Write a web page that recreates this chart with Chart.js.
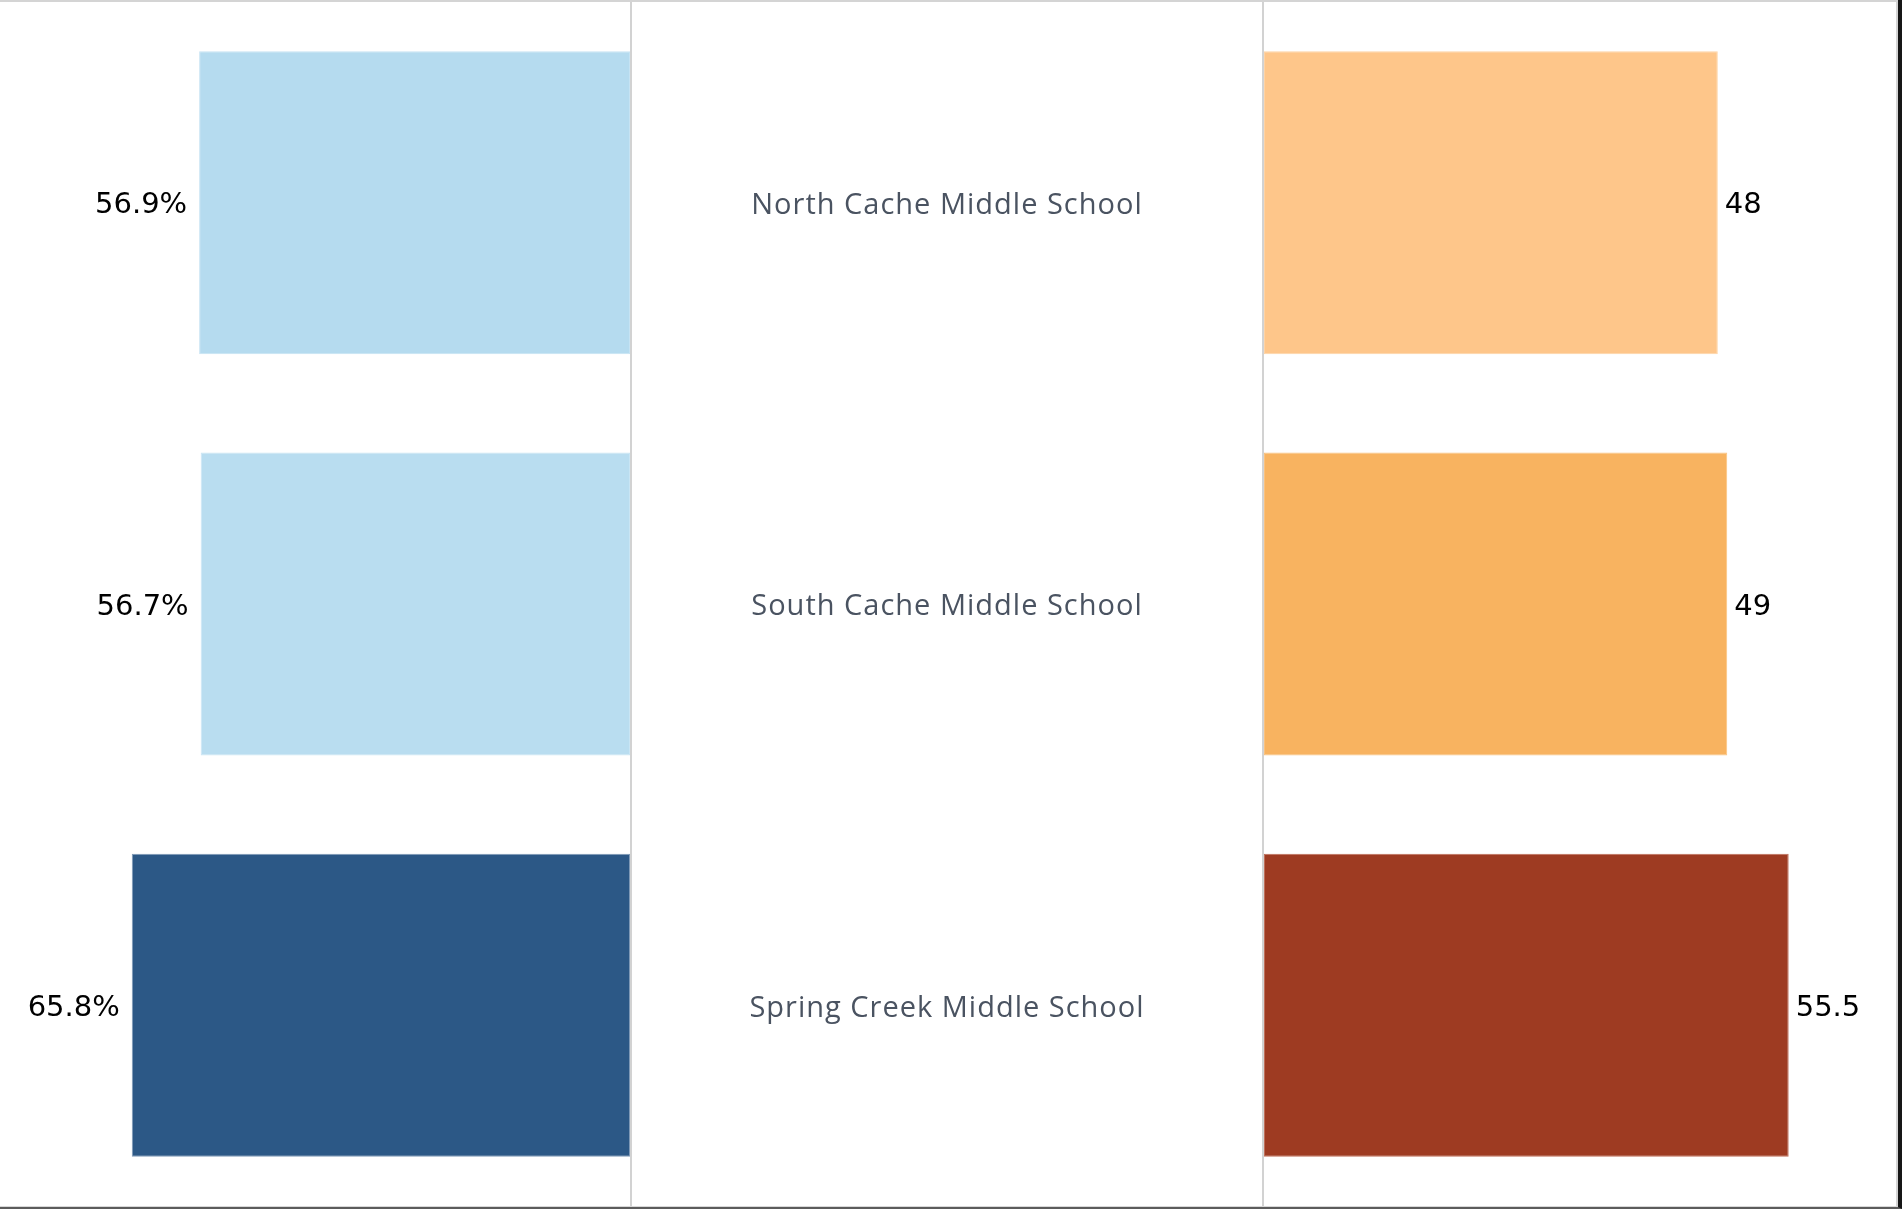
<!DOCTYPE html>
<html>
<head>
<meta charset="utf-8">
<title>Middle schools</title>
<script src="https://cdn.jsdelivr.net/npm/chart.js@4.4.1/dist/chart.umd.min.js"></script>
<style>
    html, body { margin: 0; padding: 0; background: #fff; overflow: hidden; }
    #outer {
        position: absolute; left: 0; top: 0;
        width: 1902px; height: 1209px; box-sizing: border-box;
        border-right: 4px solid #161616;
        border-bottom: 2px solid #5c5c5c;
    }
    #inner {
        width: 100%; height: 100%; box-sizing: border-box;
        border-top: 2px solid #d4d4d4;
        border-right: 2px solid #d4d4d4;
        border-bottom: 1px solid #d8d8d8;
        display: flex;
    }
    .panel { height: 1204px; position: relative; }
    #pLeft  { width: 630px; }
    #pMid   { width: 630px; border-left: 2px solid #d2d2d2; }
    #pRight { width: 632px; border-left: 2px solid #d2d2d2; }
    canvas { display: block; }
</style>
</head>
<body>
<div id="outer"><div id="inner">
    <div class="panel" id="pLeft"><canvas id="leftChart" width="630" height="1204"></canvas></div>
    <div class="panel" id="pMid"><canvas id="midChart" width="630" height="1204"></canvas></div>
    <div class="panel" id="pRight"><canvas id="rightChart" width="632" height="1204"></canvas></div>
</div></div>

<script>
// --- data ---
const schools     = ['North Cache Middle School', 'South Cache Middle School', 'Spring Creek Middle School'];
const pctValues   = [56.9, 56.7, 65.8];
const scoreValues = [48, 49, 55.5];

const pctColors   = ['#b5dbef', '#b9ddf0', '#2c5886'];
const pctBorders  = ['#c6e3f3', '#c9e5f4', '#7f99b6'];
const scoreColors = ['#fec68a', '#f8b360', '#9e3b22'];
const scoreBorders= ['#fed3a5', '#fac27f', '#bf6f5a'];

const valueFont = '29px "DejaVu Sans", sans-serif';
const nameFont  = '29px "Open Sans", sans-serif';

// draws the value next to the end of each bar
const endLabels = {
    id: 'endLabels',
    afterDatasetsDraw(chart, args, opts) {
        const ctx  = chart.ctx;
        const meta = chart.getDatasetMeta(0);
        const ds   = chart.data.datasets[0];
        ctx.save();
        ctx.font = valueFont;
        ctx.fillStyle = '#000';
        ctx.textBaseline = 'middle';
        meta.data.forEach((bar, i) => {
            const txt = opts.format(ds.data[i]);
            if (opts.side === 'left') {
                ctx.textAlign = 'right';
                ctx.fillText(txt, bar.x - opts.offset, bar.y + 3);
            } else {
                ctx.textAlign = 'left';
                ctx.fillText(txt, bar.x + opts.offset, bar.y + 3);
            }
        });
        ctx.restore();
    }
};

// draws the school names in the centre column, on the category scale
const centreNames = {
    id: 'centreNames',
    afterDraw(chart) {
        const ctx = chart.ctx;
        const y   = chart.scales.y;
        const cx  = (chart.chartArea.left + chart.chartArea.right) / 2;
        ctx.save();
        ctx.font = nameFont;
        if ('letterSpacing' in ctx) ctx.letterSpacing = '1px';
        ctx.fillStyle = '#4a5361';
        ctx.textAlign = 'center';
        ctx.textBaseline = 'middle';
        chart.data.labels.forEach((name, i) => {
            ctx.fillText(name, cx, y.getPixelForValue(i) + 3);
        });
        ctx.restore();
    }
};

function barChart(id, values, colors, borders, max, reverse, labelOpts) {
    return new Chart(document.getElementById(id), {
        type: 'bar',
        data: {
            labels: schools,
            datasets: [{
                data: values,
                backgroundColor: colors,
                borderColor: borders,
                borderWidth: 1,
                borderSkipped: false,
                barPercentage: 0.755,
                categoryPercentage: 1,
            }]
        },
        options: {
            indexAxis: 'y',
            responsive: false,
            animation: false,
            layout: { padding: 0 },
            plugins: {
                legend: { display: false },
                tooltip: { enabled: false },
                endLabels: labelOpts,
            },
            scales: {
                x: { display: false, min: 0, max: max, reverse: reverse },
                y: { display: false }
            }
        },
        plugins: [endLabels]
    });
}

barChart('leftChart', pctValues, pctColors, pctBorders, 83.2, true,
    { side: 'left', offset: 12, format: v => v.toFixed(1) + '%' });

barChart('rightChart', scoreValues, scoreColors, scoreBorders, 66.85, false,
    { side: 'right', offset: 7, format: v => String(v) });

new Chart(document.getElementById('midChart'), {
    type: 'bar',
    data: { labels: schools, datasets: [{ data: schools.map(() => null) }] },
    options: {
        indexAxis: 'y',
        responsive: false,
        animation: false,
        layout: { padding: 0 },
        plugins: { legend: { display: false }, tooltip: { enabled: false } },
        scales: { x: { display: false }, y: { display: false } }
    },
    plugins: [centreNames]
});
</script>
</body>
</html>
